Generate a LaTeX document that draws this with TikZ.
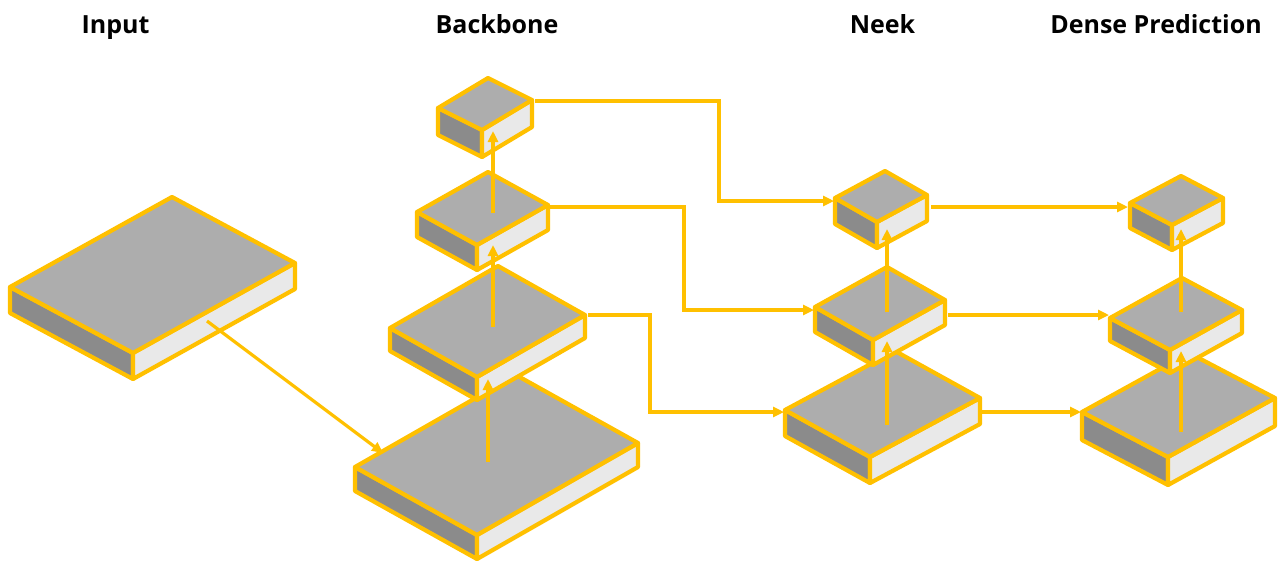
\documentclass[tikz,border=0pt]{standalone}
\usepackage{fontspec}
\setmainfont{Open Sans}
\usetikzlibrary{calc,arrows.meta}

\definecolor{gold}{HTML}{FFC000}
\definecolor{topgray}{HTML}{ADADAD}
\definecolor{leftgray}{HTML}{8B8B8B}
\definecolor{rightgray}{HTML}{E9E9E9}

\tikzset{
  boxline/.style={draw=gold, line width=4.2pt, line join=round},
  topface/.style={boxline, fill=topgray},
  sideL/.style={boxline, fill=leftgray},
  sideR/.style={boxline, fill=rightgray},
  flow/.style={draw=gold, line width=3.2pt,
    -{Triangle[length=11pt,width=10pt]}},
  title/.style={font=\bfseries\fontsize{25}{30}\selectfont, anchor=base},
}

% isometric slab: name, left corner, front corner, right corner, thickness
\newcommand\isobox[5]{%
  \coordinate (#1-L) at (#2);
  \coordinate (#1-F) at (#3);
  \coordinate (#1-R) at (#4);
  \coordinate (#1-T) at ($(#1-L)+(#1-R)-(#1-F)$);
  \coordinate (#1-Lb) at ($(#1-L)+(0,#5)$);
  \coordinate (#1-Fb) at ($(#1-F)+(0,#5)$);
  \coordinate (#1-Rb) at ($(#1-R)+(0,#5)$);
  \path[sideL] (#1-L) -- (#1-F) -- (#1-Fb) -- (#1-Lb) -- cycle;
  \path[sideR] (#1-F) -- (#1-R) -- (#1-Rb) -- (#1-Fb) -- cycle;
  \path[topface] (#1-L) -- (#1-T) -- (#1-R) -- (#1-F) -- cycle;
}

\begin{document}
\begin{tikzpicture}[x=1pt,y=-1pt]
\useasboundingbox (0,0) rectangle (1281,563);

% column titles
\node[title] (tin)  at (115.5,33) {Input};
\node[title] (tbb)  at (497,33)   {Backbone};
\node[title] (tnk)  at (882.5,33) {Neek};
\node[title] (tdp)  at (1156,33)  {Dense Prediction};

% input tensor
\isobox{inp}{10,287}{133,353}{295,263}{26}

% backbone stages (bottom to top)
\isobox{bb1}{355,467}{477,535}{638,443}{24}
\isobox{bb2}{390,328}{477,377}{585,315}{23}
\isobox{bb3}{417,212}{477,245}{548,205}{25}
\isobox{bb4}{438,108}{482,130}{532,100}{27}

% neck levels
\isobox{nk1}{785,410}{870,457}{980,398}{26}
\isobox{nk2}{815,307}{873,340}{945,300}{25}
\isobox{nk3}{835,198}{877,222}{927,195}{26}

% dense prediction levels
\isobox{dp1}{1082,412}{1168,457}{1275,398}{28}
\isobox{dp2}{1110,318}{1170,350}{1242,310}{23}
\isobox{dp3}{1130,203}{1172,225}{1223,198}{25}

% connector ports
\coordinate (inp-out) at (207,321);
\coordinate (bb1-in)  at (383,453);
\coordinate (bb1-up)  at (488,462);
\coordinate (bb2-in)  at (488,379);
\coordinate (bb2-up)  at (493,327);
\coordinate (bb3-in)  at (493,245);
\coordinate (bb3-up)  at (493,213);
\coordinate (bb4-in)  at (493,131);
\coordinate (bb4-out) at (535,101);
\coordinate (bb3-out) at (550,207);
\coordinate (bb2-out) at (588,315);
\coordinate (nk3-in)  at (834,201);
\coordinate (nk2-in)  at (814,310);
\coordinate (nk1-in)  at (784,412);
\coordinate (nk1-up)  at (887,425);
\coordinate (nk2-dn)  at (887,341);
\coordinate (nk2-up)  at (887,312);
\coordinate (nk3-dn)  at (887,229);
\coordinate (nk3-out) at (931,207);
\coordinate (nk2-out) at (948,315);
\coordinate (nk1-out) at (982,412);
\coordinate (dp3-in)  at (1128,207);
\coordinate (dp2-in)  at (1109,315);
\coordinate (dp1-in)  at (1081,412);
\coordinate (dp1-up)  at (1181,432);
\coordinate (dp2-dn)  at (1181,351);
\coordinate (dp2-up)  at (1181,312);
\coordinate (dp3-dn)  at (1181,229);

% input into backbone
\draw[flow] (inp-out) -- (bb1-in);

% bottom-up path in backbone
\draw[flow] (bb1-up) -- (bb2-in);
\draw[flow] (bb2-up) -- (bb3-in);
\draw[flow] (bb3-up) -- (bb4-in);

% backbone to neck (elbow routes)
\draw[flow] (bb4-out) -- (719,101) |- (nk3-in);
\draw[flow] (bb3-out) -- (684,207) |- (nk2-in);
\draw[flow] (bb2-out) -- (650,315) |- (nk1-in);

% bottom-up path in neck
\draw[flow] (nk1-up) -- (nk2-dn);
\draw[flow] (nk2-up) -- (nk3-dn);

% neck to dense prediction
\draw[flow] (nk3-out) -- (dp3-in);
\draw[flow] (nk2-out) -- (dp2-in);
\draw[flow] (nk1-out) -- (dp1-in);

% bottom-up path in dense prediction
\draw[flow] (dp1-up) -- (dp2-dn);
\draw[flow] (dp2-up) -- (dp3-dn);
\end{tikzpicture}
\end{document}
